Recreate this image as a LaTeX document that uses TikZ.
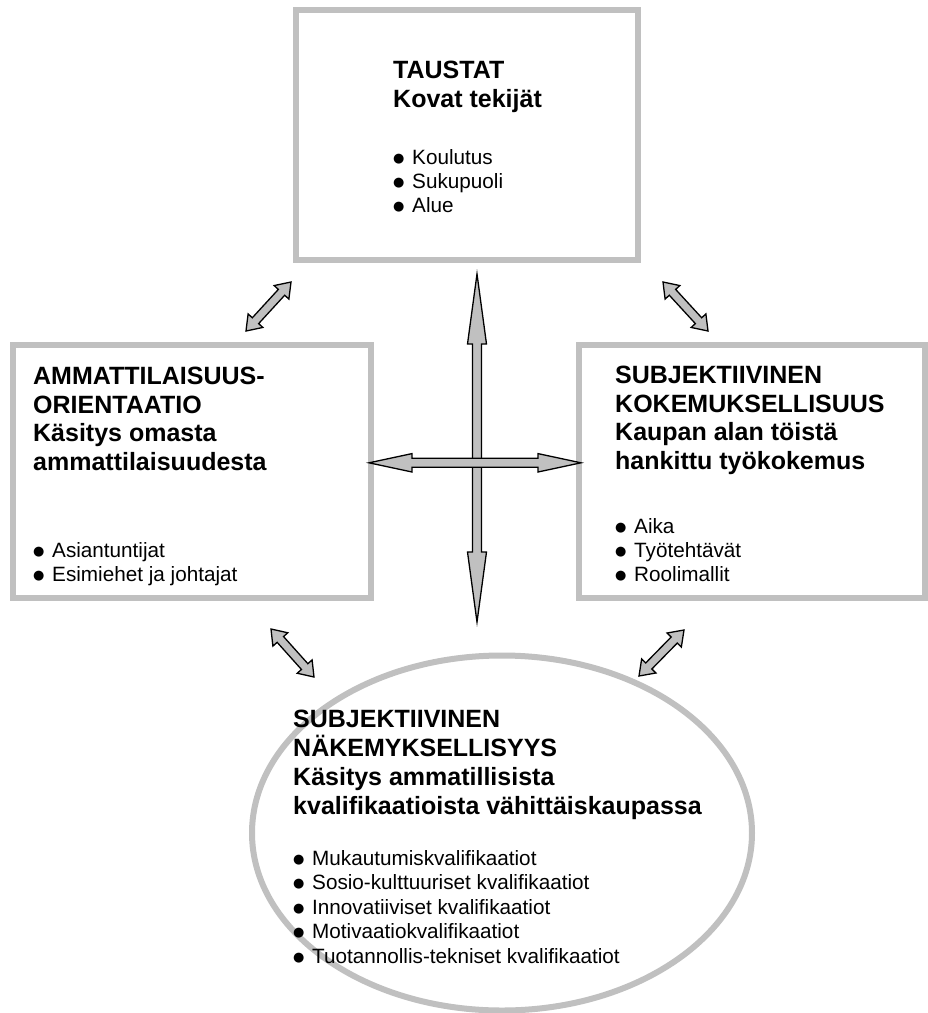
\documentclass[tikz,border=0pt]{standalone}
\usepackage{fontspec}
\setmainfont{Liberation Sans}
\newfontfamily\symfont{DejaVu Sans}
\usetikzlibrary{calc,shapes.geometric}

\definecolor{framegray}{RGB}{192,192,192}
\definecolor{arrowgray}{RGB}{192,192,192}

% bullet item: round dot followed by the text
\newcommand\itm[1]{\makebox[19pt][l]{\raisebox{2pt}{\symfont\fontsize{13}{13}\selectfont ●}}#1}

% double-headed block arrow between two named tips
% #1,#2 tips, #3 head length, #4 head half width, #5 shaft half width
\newcommand\dblblock[5]{%
  \coordinate (hA) at ($(#1)!#3!(#2)$);
  \coordinate (hB) at ($(#2)!#3!(#1)$);
  \draw[blockarrow] (#1) -- ($(hA)!#4!90:(#2)$) -- ($(hA)!#5!90:(#2)$)
    -- ($(hB)!#5!-90:(#1)$) -- ($(hB)!#4!-90:(#1)$) -- (#2)
    -- ($(hB)!#4!90:(#1)$) -- ($(hB)!#5!90:(#1)$)
    -- ($(hA)!#5!-90:(#2)$) -- ($(hA)!#4!-90:(#2)$) -- cycle;
}

\begin{document}
\begin{tikzpicture}[x=1pt,y=-1pt,
  frame/.style={draw=framegray,line width=6pt,fill=white,inner sep=0pt,outer sep=0pt},
  blockarrow/.style={fill=arrowgray,draw=black,line width=1.3pt,line join=miter},
  head/.style={anchor=north west,inner sep=0pt,align=left,
    font=\bfseries\fontsize{25}{28.5}\selectfont},
  items/.style={anchor=north west,inner sep=0pt,align=left,
    font=\fontsize{20.7}{24}\selectfont}]

\fill[white] (0,0) rectangle (928,1013);
\useasboundingbox (0,0) rectangle (928,1013);

% frames
\node[frame, minimum width=342pt, minimum height=250.5pt] (taustat) at (467,134.75) {};
\node[frame, minimum width=358pt, minimum height=253pt] (ammatti) at (192,471) {};
\node[frame, minimum width=346pt, minimum height=253pt] (kokemus) at (752,471) {};
\node[frame, ellipse, minimum width=500pt, minimum height=355pt] (nakemys) at (502,833) {};

% texts
\node[head] (taustat-head) at (393,61.1) {TAUSTAT\\Kovat tekijät};
\node[items] (taustat-list) at (393,149.2) {\itm{Koulutus}\\\itm{Sukupuoli}\\\itm{Alue}};

\node[head] (ammatti-head) at (33,367.1) {AMMATTILAISUUS-\\ORIENTAATIO\\Käsitys omasta\\ammattilaisuudesta};
\node[items] (ammatti-list) at (33,542.2) {\itm{Asiantuntijat}\\\itm{Esimiehet ja johtajat}};

\node[head] (kokemus-head) at (615,366.1) {SUBJEKTIIVINEN\\KOKEMUKSELLISUUS\\Kaupan alan töistä\\hankittu työkokemus};
\node[items] (kokemus-list) at (615,518.2) {\itm{Aika}\\\itm{Työtehtävät}\\\itm{Roolimallit}};

\node[head, font=\bfseries\fontsize{25}{29}\selectfont] (nakemys-head) at (293,710.1)
  {SUBJEKTIIVINEN\\NÄKEMYKSELLISYYS\\Käsitys ammatillisista\\kvalifikaatioista vähittäiskaupassa};
\node[items, font=\fontsize{20.7}{24.4}\selectfont] (nakemys-list) at (293,850.2)
  {\itm{Mukautumiskvalifikaatiot}\\\itm{Sosio-kulttuuriset kvalifikaatiot}\\\itm{Innovatiiviset kvalifikaatiot}\\\itm{Motivaatiokvalifikaatiot}\\\itm{Tuotannollis-tekniset kvalifikaatiot}};

% arrow tips
\coordinate (v1) at (477,274);   \coordinate (v2) at (477,622);
\coordinate (h1) at (369,462.8); \coordinate (h2) at (581,462.8);
\coordinate (d1a) at (291,282);  \coordinate (d1b) at (246,331);
\coordinate (d2a) at (663,282);  \coordinate (d2b) at (708,331);
\coordinate (d3a) at (271,629);  \coordinate (d3b) at (314,677);
\coordinate (d4a) at (684,630);  \coordinate (d4b) at (639,676);

% arrows
\dblblock{v1}{v2}{70pt}{9.5pt}{4.5pt}
\dblblock{h1}{h2}{43pt}{9.2pt}{4.5pt}
\dblblock{d1a}{d1b}{14pt}{10pt}{4.3pt}
\dblblock{d2a}{d2b}{14pt}{10pt}{4.3pt}
\dblblock{d3a}{d3b}{14pt}{10pt}{4.3pt}
\dblblock{d4a}{d4b}{14pt}{10pt}{4.3pt}
\end{tikzpicture}
\end{document}
